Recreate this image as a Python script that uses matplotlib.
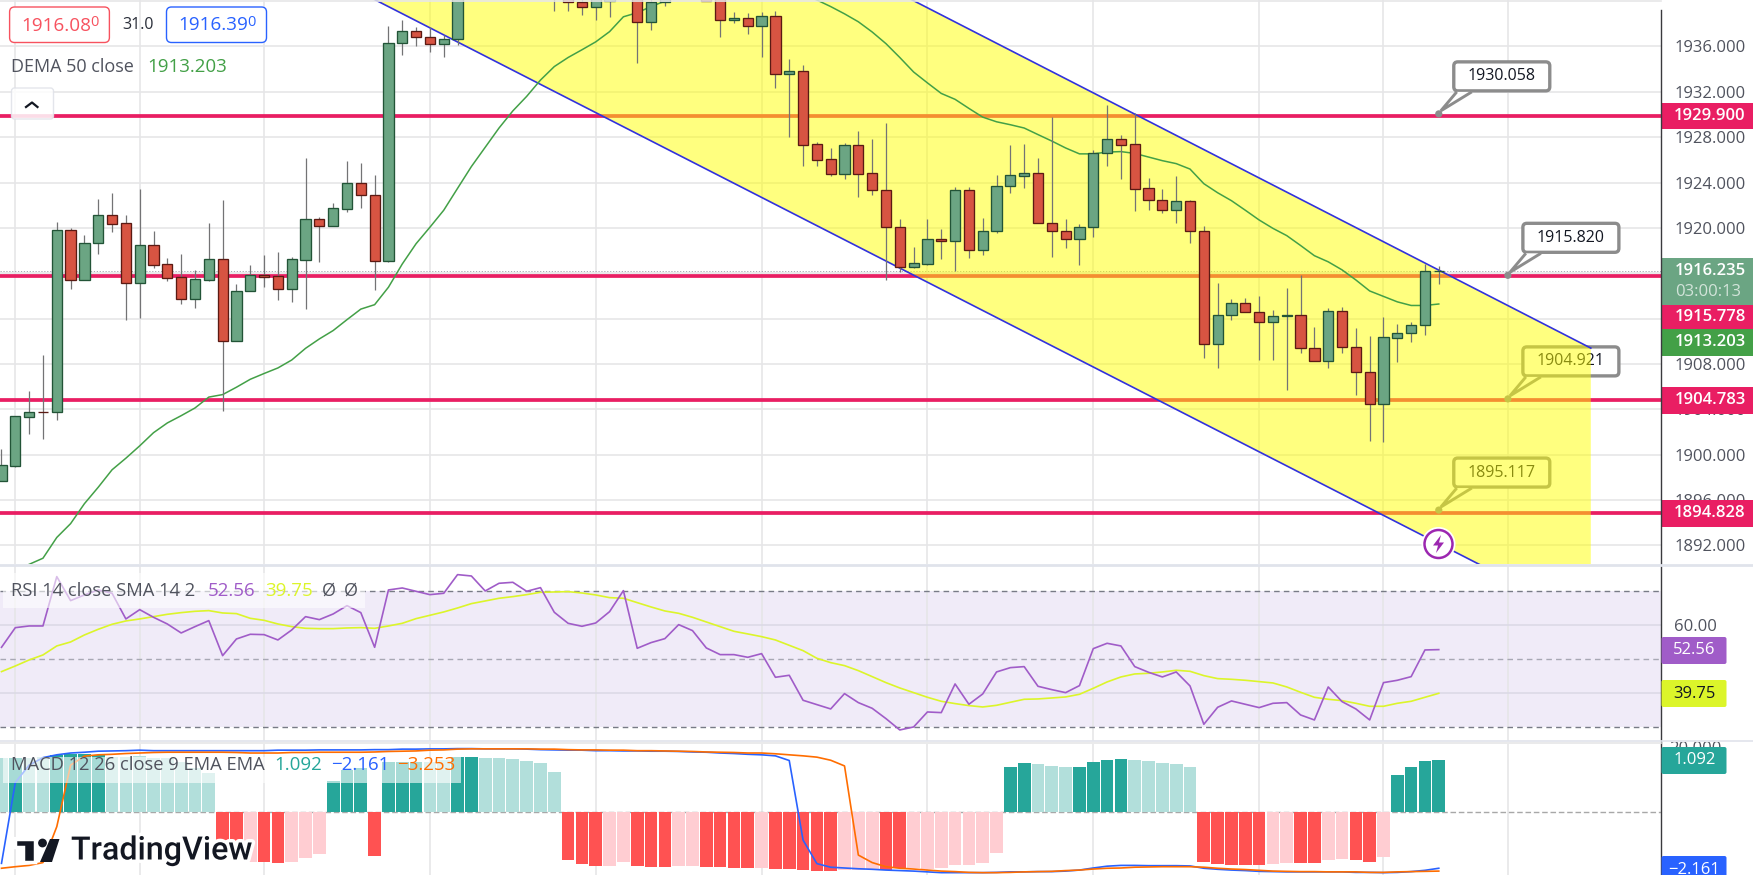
import matplotlib
matplotlib.use("Agg")
import matplotlib.pyplot as plt
import numpy as np
from matplotlib.patches import Circle, FancyBboxPatch, Polygon, Rectangle
import matplotlib.patheffects as pe

plt.rcParams['font.family'] = ['Open Sans', 'DejaVu Sans']

W, H = 1753, 875

# candles, bars 34-51 partly run above the top of the pane
opens = [1897.70, 1899.02, 1903.35, 1903.80, 1903.80, 1919.86, 1915.44, 1918.71, 1921.11, 1920.41,
         1915.18, 1918.45, 1916.79, 1915.63, 1913.74, 1915.44, 1917.30, 1910.05, 1914.44, 1915.82,
         1915.73, 1914.64, 1917.20, 1920.76, 1920.18, 1921.69, 1924.00, 1922.94, 1917.11, 1936.35,
         1937.41, 1936.86, 1936.19, 1936.70, 1944.0, 1945.5, 1944.5, 1945.2, 1946.3, 1945.0,
         1942.5, 1942.0, 1939.89, 1939.46, 1940.04, 1941.5, 1943.0, 1938.18, 1939.88, 1941.0,
         1942.0, 1941.3, 1941.5, 1938.37, 1938.50, 1937.82, 1938.66, 1933.53, 1933.88, 1927.37,
         1926.05, 1924.77, 1927.27, 1924.80, 1923.30, 1920.12, 1916.53, 1916.85, 1919.06, 1918.87,
         1923.30, 1918.07, 1919.70, 1923.74, 1924.61, 1924.80, 1920.47, 1919.77, 1919.06, 1920.12,
         1926.57, 1927.82, 1927.37, 1923.49, 1922.43, 1921.60, 1922.33, 1919.77, 1909.79, 1912.33,
         1913.42, 1912.62, 1911.72, 1912.26, 1912.36, 1909.44, 1908.29, 1912.71, 1909.54, 1907.32,
         1904.50, 1910.31, 1910.69, 1911.40, 1916.24]
closes = [1899.05, 1903.38, 1903.80, 1903.78, 1919.86, 1915.44, 1918.71, 1921.11, 1920.38, 1915.18,
          1918.45, 1916.75, 1915.60, 1913.74, 1915.47, 1917.30, 1910.05, 1914.48, 1915.82, 1915.69,
          1914.64, 1917.23, 1920.76, 1920.18, 1921.72, 1924.00, 1922.94, 1917.11, 1936.35, 1937.41,
          1936.86, 1936.19, 1936.70, 1944.0, 1945.5, 1944.5, 1945.2, 1946.3, 1945.0, 1942.5,
          1942.0, 1939.89, 1939.46, 1941.0, 1941.5, 1943.0, 1938.18, 1939.88, 1941.0, 1942.0,
          1941.3, 1940.04, 1938.37, 1938.50, 1937.82, 1938.66, 1933.53, 1933.88, 1927.34, 1926.02,
          1924.77, 1927.27, 1924.77, 1923.30, 1920.12, 1916.53, 1916.88, 1919.06, 1918.87, 1923.30,
          1918.07, 1919.70, 1923.74, 1924.64, 1924.80, 1920.47, 1919.77, 1919.06, 1920.12, 1926.57,
          1927.82, 1927.34, 1923.46, 1922.43, 1921.60, 1922.33, 1919.77, 1909.79, 1912.36, 1913.42,
          1912.62, 1911.72, 1912.26, 1912.36, 1909.44, 1908.29, 1912.71, 1909.51, 1907.32, 1904.50,
          1910.34, 1910.69, 1911.40, 1916.24, 1916.24]
highs = [1900.49, 1903.44, 1905.59, 1908.77, 1920.51, 1919.96, 1919.41, 1922.56, 1923.07, 1921.15,
         1923.42, 1919.74, 1917.33, 1917.68, 1916.27, 1920.44, 1922.46, 1915.05, 1916.72, 1917.62,
         1917.88, 1917.43, 1926.15, 1920.95, 1922.20, 1925.89, 1925.73, 1924.67, 1937.79, 1938.34,
         1937.76, 1937.69, 1937.05, 1945.0, 1946.5, 1947.0, 1946.0, 1947.5, 1948.0, 1946.0,
         1944.0, 1943.0, 1940.5, 1941.5, 1942.0, 1944.0, 1943.5, 1940.3, 1942.0, 1943.0,
         1943.0, 1942.0, 1942.0, 1939.04, 1938.95, 1939.04, 1939.14, 1934.90, 1934.36, 1927.56,
         1927.05, 1927.50, 1928.55, 1927.85, 1929.29, 1920.79, 1918.32, 1920.79, 1919.90, 1923.65,
         1923.62, 1920.86, 1924.67, 1927.30, 1927.40, 1926.15, 1929.77, 1920.79, 1920.31, 1926.86,
         1930.83, 1928.20, 1930.16, 1924.39, 1923.42, 1924.58, 1922.43, 1920.15, 1915.15, 1913.71,
         1913.80, 1914.00, 1912.74, 1914.70, 1915.82, 1911.24, 1912.90, 1913.00, 1911.17, 1910.47,
         1912.14, 1911.56, 1911.72, 1916.85, 1916.60]
lows = [1897.70, 1898.95, 1901.81, 1901.39, 1903.06, 1914.60, 1915.44, 1917.68, 1919.64, 1911.88,
        1912.04, 1916.46, 1915.34, 1913.29, 1912.94, 1915.34, 1903.86, 1910.05, 1914.44, 1914.76,
        1913.64, 1913.45, 1912.84, 1917.01, 1920.18, 1921.40, 1921.76, 1914.51, 1916.95, 1935.26,
        1936.03, 1935.51, 1935.07, 1936.16, 1941.5, 1943.0, 1942.0, 1943.5, 1944.0, 1942.0,
        1939.17, 1939.17, 1938.81, 1938.34, 1938.62, 1941.0, 1934.58, 1937.47, 1939.55, 1940.5,
        1940.8, 1940.04, 1936.86, 1938.11, 1937.09, 1935.07, 1932.34, 1928.01, 1925.44, 1925.44,
        1924.58, 1924.32, 1922.72, 1922.91, 1915.41, 1916.11, 1916.43, 1916.72, 1917.27, 1916.24,
        1917.33, 1917.62, 1919.58, 1923.07, 1923.52, 1920.47, 1917.43, 1918.23, 1916.72, 1919.19,
        1925.44, 1924.32, 1921.50, 1921.56, 1921.31, 1920.44, 1918.68, 1908.51, 1907.65, 1911.88,
        1912.62, 1908.35, 1908.35, 1905.69, 1909.00, 1908.29, 1907.65, 1909.00, 1905.24, 1901.20,
        1901.10, 1908.16, 1909.92, 1910.53, 1915.09]

# DEMA starts at bar 2
dema = [1890.33, 1890.87, 1892.70, 1893.92, 1895.68, 1897.13, 1898.67, 1899.69, 1900.78, 1901.94,
        1902.80, 1903.44, 1904.12, 1905.08, 1905.30, 1905.95, 1906.65, 1907.16, 1907.65, 1908.35,
        1909.38, 1910.21, 1910.95, 1911.91, 1912.84, 1913.23, 1914.77, 1916.82, 1918.61, 1920.06,
        1921.56, 1923.49, 1925.41, 1927.11, 1928.81, 1930.32, 1931.60, 1933.04, 1934.23, 1935.03,
        1935.71, 1936.41, 1937.31, 1938.62, 1938.98, 1939.52, 1940.0, 1940.6, 1941.0, 1941.3,
        1941.5, 1941.6, 1941.6, 1941.5, 1941.3, 1941.0, 1940.6, 1940.1, 1939.52, 1938.88,
        1938.18, 1937.28, 1936.25, 1935.03, 1933.75, 1932.79, 1931.86, 1931.34, 1930.54, 1929.77,
        1929.36, 1929.10, 1928.81, 1928.23, 1927.66, 1927.05, 1926.53, 1926.53, 1926.69, 1926.73,
        1926.57, 1926.25, 1925.93, 1925.67, 1925.19, 1923.90, 1923.10, 1922.40, 1921.56, 1920.70,
        1919.96, 1919.32, 1918.45, 1917.55, 1917.01, 1916.30, 1915.41, 1914.44, 1913.96, 1913.48,
        1913.16, 1913.16, 1913.29]

hlevels = [1929.900, 1915.778, 1904.783, 1894.828]
last_price = 1916.235

chan_bars = [20, 115]
chan_upper = [1968.8, 1909.4]
chan_lower = [1944.5, 1885.3]

# callouts: bar, price
callout_bars = [104, 109, 109, 104]
callout_prices = [1930.058, 1915.820, 1904.921, 1895.117]

price_ticks = [1892, 1896, 1900, 1904, 1908, 1912, 1916, 1920, 1924, 1928, 1932, 1936]
time_grid = [1, 10, 19, 31, 43, 55, 67, 79, 91, 100, 109]

rsi = [53.53, 59.31, 59.81, 59.81, 74.32, 67.26, 68.93, 70.40, 69.42, 61.87,
       64.61, 62.36, 60.39, 57.75, 59.61, 61.38, 51.08, 55.98, 57.36, 57.26,
       55.69, 58.63, 62.55, 61.67, 63.34, 65.79, 63.73, 53.53, 70.40, 70.98,
       70.0, 69.02, 69.42, 74.91, 74.51, 70.10, 72.36, 72.65, 70.0, 71.08,
       63.83, 60.59, 59.71, 60.69, 64.02, 70.2, 53.24, 54.91, 56.08, 60.2,
       58.44, 53.34, 51.38, 51.38, 50.59, 51.67, 44.71, 45.3, 37.95, 36.67,
       35.4, 39.91, 37.26, 35.59, 32.55, 29.22, 30.1, 34.51, 34.32, 42.75,
       36.77, 39.81, 46.28, 47.55, 47.85, 42.06, 41.08, 40.2, 42.26, 53.14,
       54.71, 53.93, 47.85, 46.18, 44.81, 46.28, 42.16, 30.89, 35.89, 37.75,
       36.77, 35.79, 37.06, 37.26, 33.63, 32.16, 41.87, 37.55, 35.4, 32.16,
       43.14, 43.83, 44.9, 52.75, 52.85]
rsi_sma = [46.38, 48.04, 49.81, 51.28, 53.93, 55.1, 57.16, 58.83, 60.3, 61.28,
           61.87, 62.55, 63.24, 63.73, 64.12, 64.32, 63.63, 63.44, 62.06, 61.47,
           60.39, 59.61, 59.12, 59.02, 59.02, 59.22, 59.32, 59.12, 59.81, 60.59,
           61.97, 62.95, 63.93, 65.1, 66.38, 67.16, 67.95, 68.44, 69.02, 69.71,
           69.81, 69.91, 69.51, 68.93, 68.14, 67.95, 66.67, 65.4, 64.22, 63.53,
           62.36, 60.98, 59.61, 58.24, 57.46, 56.67, 55.69, 54.12, 52.55, 50.3,
           49.02, 48.14, 46.67, 44.91, 43.14, 41.57, 40.2, 38.83, 37.65, 36.97,
           36.38, 35.98, 36.47, 37.36, 38.24, 38.34, 38.63, 38.93, 39.71, 41.47,
           43.34, 44.81, 45.69, 45.89, 46.28, 46.77, 46.47, 45.2, 44.32, 44.12,
           43.83, 43.44, 43.04, 41.87, 40.3, 38.83, 38.24, 37.85, 37.06, 36.18,
           36.18, 37.06, 37.65, 38.83, 40.0]

hist = [1.134, 1.134, 1.134, 1.148, 1.203, 1.217, 1.217, 1.196, 1.161, 1.161,
        1.175, 1.141, 1.127, 1.05, 0.918, 0.828, -0.612, -0.647, -1.029, -1.029,
        -1.057, -1.029, -0.946, -0.869, 0.654, 0.883, 0.925, -0.911, 1.057, 1.057,
        1.057, 1.057, 1.092, 1.155, 1.155, 1.134, 1.134, 1.113, 1.071, 1.029,
        0.842, -0.995, -1.078, -1.12, -1.12, -1.036, -1.12, -1.141, -1.141, -1.12,
        -1.12, -1.141, -1.141, -1.161, -1.161, -1.161, -1.182, -1.182, -1.203, -1.224,
        -1.224, -1.203, -1.203, -1.182, -1.203, -1.168, -1.168, -1.182, -1.161, -1.099,
        -1.099, -1.057, -0.848, 0.946, 1.029, 1.008, 0.967, 0.946, 0.946, 1.05,
        1.092, 1.113, 1.092, 1.071, 1.029, 1.008, 0.946, -1.036, -1.078, -1.099,
        -1.099, -1.099, -1.078, -1.057, -1.057, -1.057, -0.995, -0.974, -0.995, -1.036,
        -0.932, 0.779, 0.946, 1.071, 1.092]
# bars where the histogram is fading towards zero
hist_fading = [0, 2, 3, 8, 9, 10, 11, 12, 13, 14, 15, 18, 21, 22, 23, 31, 32, 35, 36, 37, 38, 39, 40,
               44, 45, 49, 50, 55, 61, 62, 63, 66, 67, 68, 69, 70, 71, 72, 75, 76, 77,
               82, 83, 84, 85, 86, 92, 93, 96, 97, 100]

macd = [-1.97, 1.16, 1.83, 2.12, 2.23, 2.30, 2.33, 2.37, 2.38, 2.39,
        2.41, 2.39, 2.39, 2.39, 2.39, 2.39, 2.39, 2.39, 2.39, 2.39,
        2.41, 2.41, 2.41, 2.42, 2.42, 2.42, 2.42, 2.43, 2.43, 2.45,
        2.45, 2.46, 2.46, 2.47, 2.47, 2.46, 2.46, 2.46, 2.45, 2.43,
        2.42, 2.41, 2.41, 2.39, 2.39, 2.38, 2.38, 2.37, 2.37, 2.36,
        2.34, 2.33, 2.30, 2.28, 2.25, 2.23, 2.19, 2.01, -1.07, -1.98,
        -2.12, -2.15, -2.18, -2.20, -2.23, -2.25, -2.27, -2.30, -2.33, -2.33,
        -2.33, -2.33, -2.32, -2.30, -2.30, -2.29, -2.29, -2.27, -2.23, -2.15,
        -2.08, -2.05, -2.05, -2.06, -2.06, -2.06, -2.07, -2.16, -2.20, -2.23,
        -2.25, -2.28, -2.29, -2.30, -2.30, -2.30, -2.30, -2.30, -2.32, -2.32,
        -2.33, -2.32, -2.29, -2.24, -2.16]
signal = [-2.16, -2.10, -2.05, -1.94, -0.55, 1.83, 2.18, 2.23, 2.25, 2.28,
          2.30, 2.32, 2.33, 2.33, 2.33, 2.33, 2.33, 2.32, 2.30, 2.30,
          2.30, 2.32, 2.32, 2.33, 2.33, 2.33, 2.33, 2.34, 2.36, 2.37,
          2.38, 2.41, 2.42, 2.45, 2.46, 2.46, 2.46, 2.46, 2.46, 2.45,
          2.45, 2.43, 2.42, 2.42, 2.41, 2.41, 2.39, 2.39, 2.38, 2.37,
          2.36, 2.34, 2.33, 2.32, 2.30, 2.30, 2.27, 2.23, 2.19, 2.14,
          2.02, 1.80, -1.65, -1.94, -2.10, -2.16, -2.19, -2.23, -2.27, -2.29,
          -2.32, -2.33, -2.33, -2.32, -2.30, -2.29, -2.28, -2.25, -2.23, -2.19,
          -2.16, -2.15, -2.12, -2.11, -2.10, -2.10, -2.10, -2.12, -2.16, -2.19,
          -2.21, -2.24, -2.27, -2.28, -2.29, -2.29, -2.30, -2.30, -2.30, -2.32,
          -2.32, -2.30, -2.29, -2.28, -2.27]

bars = np.arange(len(opens))
PX0, PXSTEP = 1.5, 13.82
AXIS_X = 1661
XLIM = ((0 - PX0) / PXSTEP, (AXIS_X - PX0) / PXSTEP)
GRID = '#e6e6e8'
TICK = '#50535e'


def pane(y0, y1, ylim):
    ax = fig.add_axes([0, 1 - y1 / H, AXIS_X / W, (y1 - y0) / H])
    ax.set_xlim(XLIM)
    ax.set_ylim(ylim)
    ax.set_xticks([])
    for s in ax.spines.values():
        s.set_visible(False)
    ax.yaxis.tick_right()
    ax.tick_params(axis='y', length=0, pad=9.5, labelsize=12, labelcolor=TICK)
    for b in time_grid:
        ax.axvline(b, color=GRID, lw=1.2, zorder=1)
    return ax


fig = plt.figure(figsize=(W / 100, H / 100), dpi=100, facecolor='white')

# main pane
ax = pane(0, 564, (1890.36, 1940.1))
ax.set_yticks(price_ticks)
ax.set_yticklabels([f"{p}.000" for p in price_ticks])
for p in price_ticks:
    ax.axhline(p, color=GRID, lw=1.2, zorder=1)
for p in hlevels:
    ax.axhline(p, color='#e91e63', lw=2.7, zorder=2)
ax.axhline(last_price, color='#9a9ca6', lw=0.6, ls=(0, (1.5, 2)), zorder=2)

ax.fill_between(chan_bars, chan_upper, chan_lower, color='#ffff00', alpha=0.5, linewidth=0, zorder=5)
ax.plot(chan_bars, chan_upper, color='#3232dc', lw=1.2, zorder=6)
ax.plot(chan_bars, chan_lower, color='#3232dc', lw=1.2, zorder=6)
ax.plot(bars[2:], dema, color='#43a047', lw=1.1, zorder=6)

colors = ['#6ba583' if c >= o else '#d75442' for o, c in zip(opens, closes)]
edges = ['#225437' if c >= o else '#5b1a13' for o, c in zip(opens, closes)]
ax.vlines(bars, lows, highs, color='#737375', lw=0.9, zorder=7)
ax.bar(bars, np.array(closes) - np.array(opens), bottom=opens, width=0.74,
       color=colors, edgecolor=edges, linewidth=0.95, zorder=8)

# rsi pane
ax_rsi = pane(565, 741, (25.97, 77.74))
ax_rsi.axhspan(30, 70, color='#7e57c2', alpha=0.115, lw=0, zorder=0)
ax_rsi.set_yticks([60])
ax_rsi.set_yticklabels(['60.00'])
for v in [60, 40]:
    ax_rsi.axhline(v, color='#dcd9e6', lw=1.2, zorder=1)
ax_rsi.axhline(70, color='#787b86', lw=1, ls=(0, (4, 3)), zorder=2)
ax_rsi.axhline(30, color='#787b86', lw=1, ls=(0, (4, 3)), zorder=2)
ax_rsi.axhline(50, color='#a8a8b4', lw=1, ls=(0, (4, 3)), zorder=2)
ax_rsi.plot(bars, rsi_sma, color='#dcf52a', lw=1.2, zorder=3)
ax_rsi.plot(bars, rsi, color='#a05cc8', lw=1.2, zorder=4)

# macd pane, the lines sit on their own scale
ax_macd = pane(743.5, 875, (-1.304, 1.437))
ax_macd.set_yticks([0])
ax_macd.set_yticklabels(['0.000'])
ax_macd.axhline(0, color='#a8a8a8', lw=1, ls=(0, (4, 2)), zorder=2)
hist_colors = []
for i, v in enumerate(hist):
    if v >= 0:
        hist_colors.append('#b2dfdb' if i in hist_fading else '#26a69a')
    else:
        hist_colors.append('#ffcdd2' if i in hist_fading else '#ff5252')
ax_macd.bar(bars, hist, width=0.92, color=hist_colors, linewidth=0, zorder=3)
ax_lines = ax_macd.twinx()
ax_lines.set_ylim(-2.421, 2.668)
ax_lines.set_yticks([])
ax_lines.set_xlim(XLIM)
for s in ax_lines.spines.values():
    s.set_visible(False)
ax_lines.plot(bars, macd, color='#2962ff', lw=1.2)
ax_lines.plot(bars, signal, color='#ff6d00', lw=1.2)

# overlay in pixel coordinates for everything that is not data
ov = fig.add_axes([0, 0, 1, 1], zorder=20)
ov.set_xlim(0, W)
ov.set_ylim(H, 0)
ov.axis('off')
ov.patch.set_alpha(0)


def to_px(b, p):
    return ov.transData.inverted().transform(ax.transData.transform((b, p)))


# callouts stay in the main pane so that the channel fill tints them
for b, p in zip(callout_bars, callout_prices):
    dx, dy = to_px(b, p)
    box = FancyBboxPatch((dx + 15, dy - 52), 96, 29, boxstyle='round,pad=0,rounding_size=4',
                         fc='white', ec='#8c8c8c', lw=2.4, transform=ov.transData, zorder=3)
    ax.add_patch(box)
    ax.add_patch(Polygon([[dx + 33, dy - 22], [dx + 2, dy - 3], [dx + 18, dy - 22]], closed=False,
                         fc='white', ec='#8c8c8c', lw=2.1, transform=ov.transData, zorder=3.1))
    ax.add_patch(Circle((dx, dy), 3.6, fc='#8c8c8c', ec='none', transform=ov.transData, zorder=3.2))
    ax.text(dx + 63, dy - 37.5, f"{p:.3f}", color='#131722', fontsize=11.5, ha='center', va='center',
            transform=ov.transData, zorder=3.3)

# axis line and pane separators
ov.plot([AXIS_X, AXIS_X], [10, H], color='#3a3a3e', lw=1)
ov.plot([0, W], [564.5, 564.5], color='#e0e3eb', lw=2)
ov.plot([0, W], [740.8, 740.8], color='#e0e3eb', lw=1.2)
ov.plot([0, AXIS_X], [743.3, 743.3], color='#e6e6e8', lw=1.2)
ov.plot([0, AXIS_X], [0.5, 0.5], color='#e6e6e8', lw=1.2)

# price tags
tag_pink = '#e91e63'
tags = [(102.5, 129, tag_pink, '1929.900'), (305, 329, tag_pink, '1915.778'),
        (329, 355.6, '#43a047', '1913.203'), (387, 414, tag_pink, '1904.783'),
        (500, 526.5, tag_pink, '1894.828')]
for y0, y1, col, txt in tags:
    ov.add_patch(Rectangle((AXIS_X + 0.5, y0), W - AXIS_X, y1 - y0, fc=col, ec='none'))
    ov.text(1710, (y0 + y1) / 2, txt, color='white', fontsize=12, fontweight='semibold', ha='center', va='center')
ov.add_patch(Rectangle((AXIS_X + 0.5, 257.5), W - AXIS_X, 47.5, fc='#6ba583', ec='none'))
ov.text(1710, 271, '1916.235', color='white', fontsize=12, fontweight='semibold', ha='center', va='center')
ov.text(1708, 292, '03:00:13', color='#d3e4da', fontsize=12, ha='center', va='center')


def small_tag(y0, y1, col, txt, tcol='white', x1=1726):
    ov.add_patch(FancyBboxPatch((AXIS_X + 0.5, y0), x1 - AXIS_X, y1 - y0, boxstyle='round,pad=0,rounding_size=2',
                                fc=col, ec='none', zorder=5))
    ov.text((AXIS_X + x1) / 2 + 1, (y0 + y1) / 2, txt, color=tcol, fontsize=12, ha='center', va='center', zorder=6)


small_tag(637, 664, '#a05cc8', '52.56')
small_tag(680, 707, '#dcf52a', '39.75', '#131722')
clip20 = ov.text(1695, 749, '20.000', color=TICK, fontsize=12, ha='center', va='center', zorder=4, clip_on=True)
clip20.set_clip_path(Rectangle((1662, 741.5), 90, 6, transform=ov.transData))
small_tag(747, 774, '#26a69a', '1.092')
small_tag(856, 883, '#2962ff', '\u22122.161')

# top left quote boxes
ov.add_patch(FancyBboxPatch((9.6, 7), 99.8, 35.5, boxstyle='round,pad=0,rounding_size=5', fc='white', ec='#f7525f', lw=1))
ov.add_patch(FancyBboxPatch((166.5, 7), 100, 35.5, boxstyle='round,pad=0,rounding_size=5', fc='white', ec='#2962ff', lw=1))
ov.text(21, 26, '1916.08', color='#f7525f', fontsize=13.6, va='center')
ov.text(90, 23, '0', color='#f7525f', fontsize=10.5, va='center')
ov.text(178, 25, '1916.39', color='#2962ff', fontsize=13.6, va='center')
ov.text(247, 23, '0', color='#2962ff', fontsize=10.5, va='center')
ov.text(138, 25, '31.0', color='#2a2e39', fontsize=11.5, ha='center', va='center')
ov.text(11, 67, 'DEMA 50 close', color='#50535e', fontsize=13, va='center')
ov.text(147, 67, '1913.203', color='#43a047', fontsize=13.5, va='center')

# collapse button
ov.add_patch(FancyBboxPatch((11.5, 88), 42, 31, boxstyle='round,pad=0,rounding_size=3', fc='white', ec='#dfe1e8', lw=1, alpha=0.85))
ov.plot([26, 32, 37.5], [107, 102.5, 107], color='#131722', lw=1.6)

# pane legends
ov.add_patch(Rectangle((3.3, 573), 362, 34.7, fc='white', ec='none', alpha=0.6))
ov.text(11, 590.5, 'RSI 14 close SMA 14 2', color='#50535e', fontsize=13.2, va='center')
ov.text(208, 590.5, '52.56', color='#a05cc8', fontsize=13.5, va='center')
ov.text(265, 590.5, '39.75', color='#dcf52a', fontsize=13.5, va='center')
ov.text(322, 590.5, '\u00d8', color='#50535e', fontsize=13, va='center')
ov.text(344, 590.5, '\u00d8', color='#50535e', fontsize=13, va='center')
ov.add_patch(Rectangle((3, 756.7), 458, 26, fc='white', ec='none', alpha=0.6))
ov.text(11, 765, 'MACD 12 26 close 9 EMA EMA', color='#50535e', fontsize=13.2, va='center')
ov.text(274, 765, '1.092', color='#26a69a', fontsize=13.5, va='center')
ov.text(331, 765, '\u22122.161', color='#2962ff', fontsize=13.5, va='center')
ov.text(397, 765, '\u22123.253', color='#ff6d00', fontsize=13.5, va='center')

# logo
halo = [pe.withStroke(linewidth=5, foreground='white')]
logo_col = '#131722'
t_mark = Polygon([[15, 839], [35, 839], [35, 862], [23.5, 862], [23.5, 847], [15, 847]], fc=logo_col, ec='white', lw=2.5)
t_mark.set_path_effects([pe.Stroke(linewidth=3, foreground='white'), pe.Normal()])
ov.add_patch(t_mark)
ov.add_patch(Circle((42.5, 843), 4.4, fc=logo_col, ec='none'))
ov.add_patch(Polygon([[50, 839], [59.5, 839], [52, 862], [40, 862]], fc=logo_col, ec='none'))
ov.text(71, 851, 'TradingView', color=logo_col, fontsize=23.2, family='Roboto', fontweight='medium',
        va='center', path_effects=halo)

# alert icon
ov.add_patch(Circle((1438.5, 544), 17, fc='white', ec='none'))
ov.add_patch(Circle((1438.5, 544), 14, fc='white', ec='#9c27b0', lw=1.8))
ov.add_patch(Polygon([[1441, 535], [1433, 545.5], [1438, 545.5], [1436, 553], [1444, 542.5], [1439, 542.5]],
                     fc='#9c27b0', ec='none'))

fig.savefig('out.png', dpi=100)
